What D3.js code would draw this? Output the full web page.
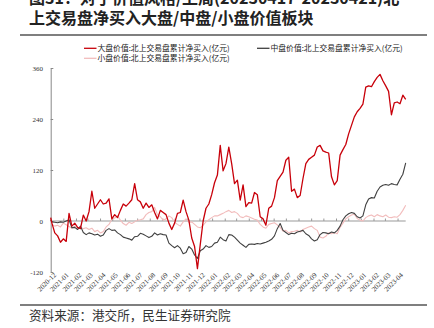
<!DOCTYPE html>
<html>
<head>
<meta charset="utf-8">
<script src="https://cdn.jsdelivr.net/npm/d3@7"></script>
<style>
  html, body { margin: 0; padding: 0; background: #fff; }
  svg { display: block; }
</style>
</head>
<body>
<svg id="chart" width="434" height="328"></svg>
<script>
// Cumulative northbound net buying (亿元), sampled weekly from 2020-12-01
const startDate = new Date(2020, 11, 1);
const endDate = new Date(2023, 3, 21);

const largeValue = [8,
  -5,-28,-35,-50,-42,-48,18,-12,-5,-15,
  -18,14,0,22,70,30,40,50,40,42,
  52,5,15,8,25,40,35,42,50,88,
  50,45,30,42,32,38,20,5,25,20,
  15,-5,-20,-5,18,20,49,22,2,-40,
  -60,-112,-55,0,30,40,62,90,108,178,
  118,135,174,135,88,96,49,85,34,43,
  42,67,62,10,5,-10,30,35,55,95,
  105,115,143,150,70,75,55,60,100,135,
  145,150,155,174,178,165,162,160,104,85,
  95,155,168,180,205,225,245,257,265,275,
  315,318,316,328,338,345,330,318,305,250,
  278,280,276,296,286];

const midValue = [3,
  -2,-3,-4,-2,-3,0,3,-16,-15,-20,
  -12,-27,-32,-28,-30,-33,-31,-36,-33,-22,
  -18,-22,-21,-28,-32,-38,-40,-42,-45,-37,
  -36,-29,-31,-35,-39,-36,-28,-33,-30,-32,
  -33,-52,-58,-63,-58,-64,-77,-74,-60,-66,
  -80,-88,-70,-66,-58,-62,-60,-52,-50,-38,
  -44,-47,-32,-33,-38,-45,-52,-57,-62,-55,
  -54,-55,-53,-54,-52,-50,-47,-43,-35,-18,
  -6,-22,-27,-32,-29,-30,-26,-24,-22,-30,
  -34,-42,-47,-44,-32,-27,-28,-30,-26,-28,
  -22,-12,3,12,17,20,18,10,7,12,
  38,52,55,54,70,80,84,86,84,88,
  86,85,98,110,137];

const smallValue = [5,
  -8,-12,-10,-14,-5,-9,-13,-17,-12,-20,
  -15,-18,-16,-20,-17,-25,-22,-28,-25,-14,
  -8,4,7,12,2,-6,-10,-3,-6,-2,
  2,3,5,15,20,22,32,15,10,2,
  5,12,8,-3,-8,-12,-2,5,-3,-2,
  -8,-14,-16,-10,-2,3,8,12,12,15,
  18,22,25,20,22,18,10,8,12,10,
  7,4,2,-8,-14,-17,-8,-6,-4,-9,
  -15,-24,-22,-28,-25,-24,-22,-26,-20,-17,
  -14,-12,-18,-22,-38,-40,-36,-28,-30,-27,
  -30,-15,-5,5,10,14,16,6,2,0,
  8,12,14,10,15,12,10,14,9,8,
  10,9,15,25,37];

const seriesNames = [
  "大盘价值:北上交易盘累计净买入(亿元)",
  "中盘价值:北上交易盘累计净买入(亿元)",
  "小盘价值:北上交易盘累计净买入(亿元)"
];
const seriesColors = ["#c8000a", "#404040", "#f2bcbc"];
const yTicks = [-120, 0, 120, 240, 360];

// Sample dates: the first day, then every Friday up to the last trading day
const dates = [startDate].concat(d3.timeFriday.range(new Date(2020, 11, 4), d3.timeDay.offset(endDate, 1)));

const svg = d3.select("#chart");
const FONT_CJK = "'Noto Sans CJK SC', 'Noto Sans', sans-serif";
const FONT_SERIF = "'Liberation Serif', 'DejaVu Serif', 'Noto Sans CJK SC', serif";

// Title (two lines, the first runs off the top edge)
const title = svg.append("g")
  .attr("font-family", FONT_CJK)
  .attr("font-weight", "bold")
  .attr("font-size", 16)
  .attr("fill", "#222");
title.append("text").attr("x", 29).attr("y", 4)
  .text("图31：对于价值风格/上周(20230417-20230421)北");
title.append("text").attr("x", 29).attr("y", 24)
  .text("上交易盘净买入大盘/中盘/小盘价值板块");

svg.append("line").attr("x1", 20).attr("x2", 427).attr("y1", 35).attr("y2", 35)
  .attr("stroke", "#555").attr("stroke-width", 1.5);
svg.append("line").attr("x1", 20).attr("x2", 427).attr("y1", 305).attr("y2", 305)
  .attr("stroke", "#555").attr("stroke-width", 1.5);

svg.append("text").attr("x", 29).attr("y", 320)
  .attr("font-family", FONT_CJK).attr("font-size", 12.6).attr("fill", "#333")
  .text("资料来源：港交所，民生证券研究院");

// Scales
const x = d3.scaleTime().domain([startDate, endDate]).range([50.7, 405.7]);
const y = d3.scaleLinear().domain([-120, 360]).range([272, 68]);

// Left axis with inward ticks
const yAxis = svg.append("g").attr("transform", "translate(50.7,0)")
  .call(d3.axisRight(y).tickValues(yTicks).tickSize(2.5).tickFormat(""));
yAxis.select(".domain").attr("stroke", "#888");
yAxis.selectAll(".tick line").attr("stroke", "#888");
svg.append("g").selectAll("text").data(yTicks).join("text")
  .attr("x", 43).attr("y", d => y(d) + 2.5)
  .attr("text-anchor", "end")
  .attr("font-family", FONT_SERIF).attr("font-size", 7).attr("fill", "#333")
  .text(d => d);

// Zero line with month ticks
const months = d3.timeMonth.range(startDate, d3.timeDay.offset(endDate, 1));
const xAxis = svg.append("g").attr("transform", `translate(0,${y(0)})`)
  .call(d3.axisTop(x).tickValues(months).tickSize(2.5).tickFormat(""));
xAxis.select(".domain").attr("stroke", "#999").attr("d", `M${x.range()[0]},0H${x.range()[1]}`);
xAxis.selectAll(".tick line").attr("stroke", "#999");

const fmt = d3.timeFormat("%Y-%m");
svg.append("g").selectAll("text").data(months).join("text")
  .attr("transform", d => `translate(${x(d) + 2.5},272) rotate(-45)`)
  .attr("text-anchor", "end")
  .attr("dy", "0.7em")
  .attr("font-family", FONT_SERIF).attr("font-size", 7).attr("fill", "#333")
  .text(d => fmt(d));

// Lines: small first, then mid, large on top
const line = d3.line().x((d, i) => x(dates[i])).y(d => y(d));
const seriesValues = [largeValue, midValue, smallValue];
[2, 1, 0].forEach(k => {
  svg.append("path")
    .attr("d", line(seriesValues[k]))
    .attr("fill", "none")
    .attr("stroke", seriesColors[k])
    .attr("stroke-width", k === 0 ? 1.3 : 1.1)
    .attr("stroke-linejoin", "round");
});

// Legend
const legendPos = [[84, 48.3], [257, 48.3], [84, 58.3]];
const legend = svg.append("g");
seriesNames.forEach((name, k) => {
  const [lx, ly] = legendPos[k];
  legend.append("line").attr("x1", lx).attr("x2", lx + 12.5).attr("y1", ly).attr("y2", ly)
    .attr("stroke", seriesColors[k]).attr("stroke-width", 1.3);
  legend.append("text").attr("x", lx + 13.5).attr("y", ly + 2.8)
    .attr("font-family", FONT_CJK).attr("font-size", 7.8).attr("fill", "#222")
    .text(name);
});
</script>
</body>
</html>
